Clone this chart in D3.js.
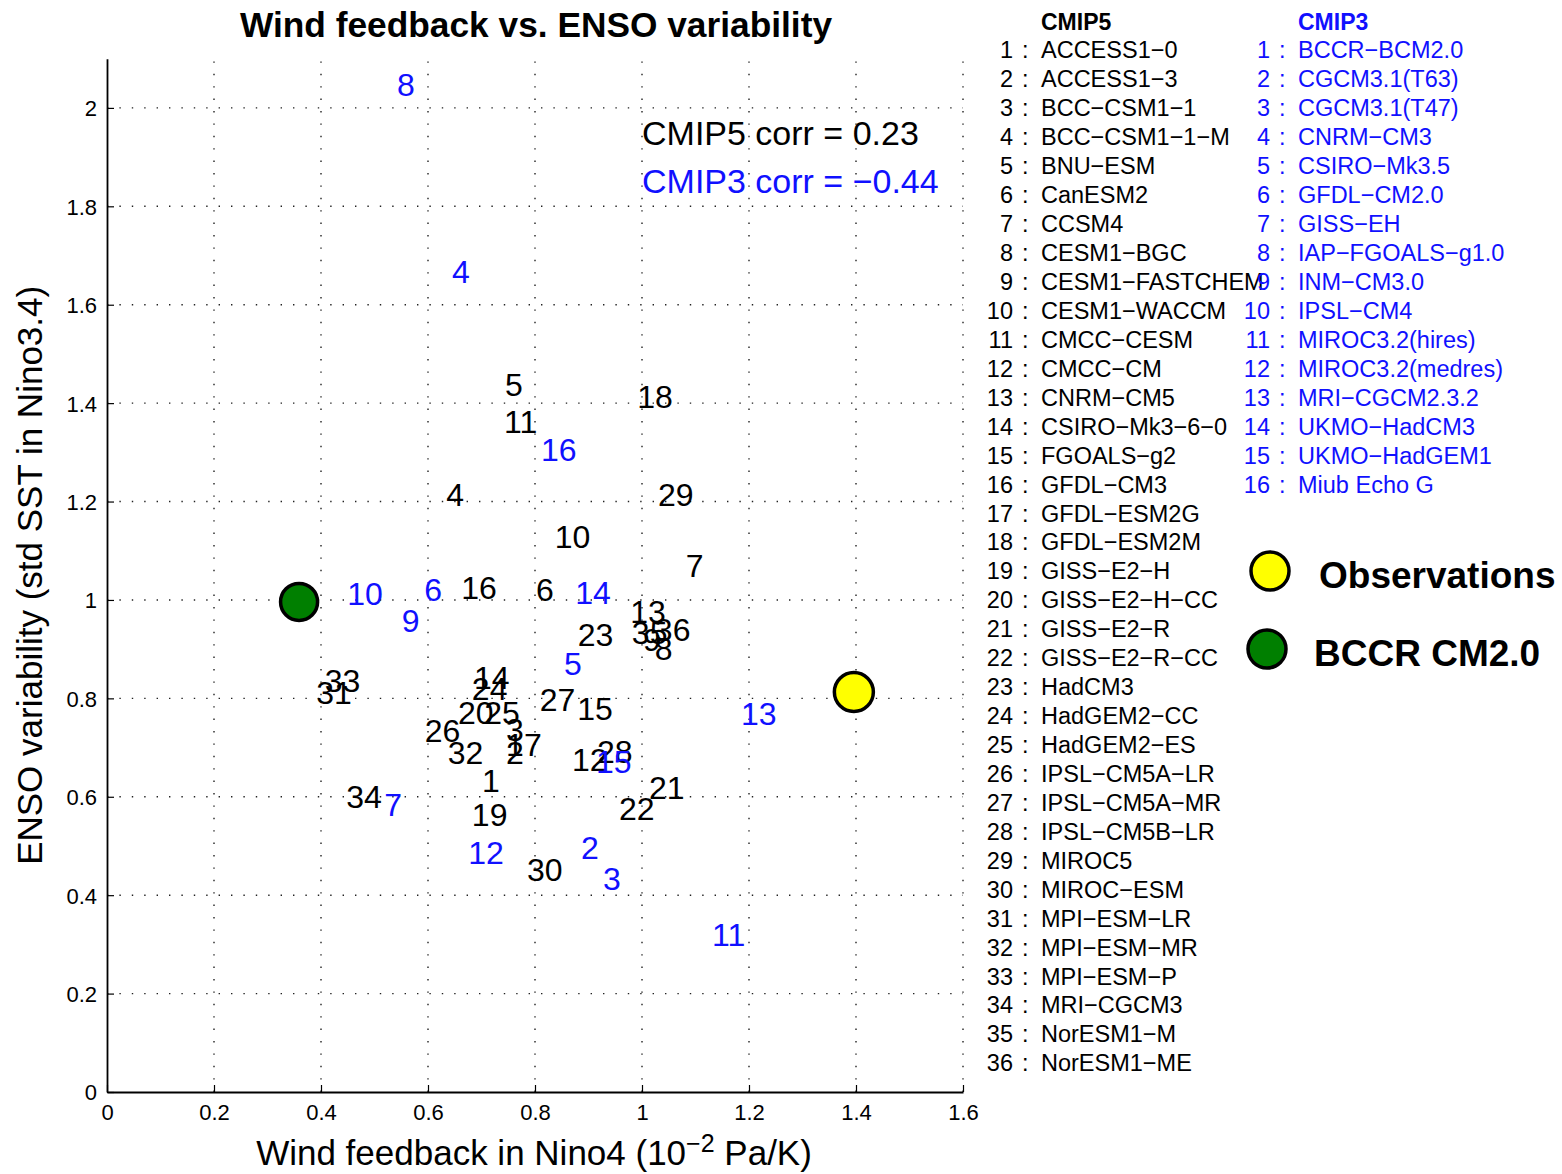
<!DOCTYPE html>
<html>
<head>
<meta charset="utf-8">
<script src="https://cdn.jsdelivr.net/npm/d3@7"></script>
<style>
  body { margin: 0; background: #fff; }
  text { font-family: "Liberation Sans", Arial, Helvetica, sans-serif; }
</style>
</head>
<body>
<svg id="chart" width="1562" height="1174"></svg>
<script>
// ---- data -------------------------------------------------------------
const cmip5Names = [
  "ACCESS1-0", "ACCESS1-3", "BCC-CSM1-1", "BCC-CSM1-1-M", "BNU-ESM", "CanESM2",
  "CCSM4", "CESM1-BGC", "CESM1-FASTCHEM", "CESM1-WACCM", "CMCC-CESM", "CMCC-CM",
  "CNRM-CM5", "CSIRO-Mk3-6-0", "FGOALS-g2", "GFDL-CM3", "GFDL-ESM2G", "GFDL-ESM2M",
  "GISS-E2-H", "GISS-E2-H-CC", "GISS-E2-R", "GISS-E2-R-CC", "HadCM3", "HadGEM2-CC",
  "HadGEM2-ES", "IPSL-CM5A-LR", "IPSL-CM5A-MR", "IPSL-CM5B-LR", "MIROC5", "MIROC-ESM",
  "MPI-ESM-LR", "MPI-ESM-MR", "MPI-ESM-P", "MRI-CGCM3", "NorESM1-M", "NorESM1-ME"
];
// wind feedback in Nino4 (1e-2 Pa/K)
const cmip5Wind = [
  0.701, 0.746, 0.746, 0.634, 0.744, 0.802, 1.082, 1.024, 1.002, 0.837, 0.742, 0.869,
  0.978, 0.686, 0.879, 0.662, 0.746, 0.991, 0.682, 0.656, 1.013, 0.957, 0.880, 0.682,
  0.705, 0.594, 0.809, 0.916, 1.030, 0.785, 0.391, 0.637, 0.407, 0.447, 0.981, 1.024
];
// ENSO variability: std of SST in Nino3.4
const cmip5Enso = [
  0.634, 0.691, 0.736, 1.215, 1.437, 1.022, 1.071, 0.902, 0.919, 1.130, 1.362, 0.675,
  0.976, 0.843, 0.780, 1.026, 0.707, 1.413, 0.563, 0.772, 0.618, 0.577, 0.929, 0.821,
  0.772, 0.734, 0.797, 0.693, 1.215, 0.453, 0.811, 0.691, 0.837, 0.600, 0.933, 0.939
];

const cmip3Names = [
  "BCCR-BCM2.0", "CGCM3.1(T63)", "CGCM3.1(T47)", "CNRM-CM3", "CSIRO-Mk3.5", "GFDL-CM2.0",
  "GISS-EH", "IAP-FGOALS-g1.0", "INM-CM3.0", "IPSL-CM4", "MIROC3.2(hires)",
  "MIROC3.2(medres)", "MRI-CGCM2.3.2", "UKMO-HadCM3", "UKMO-HadGEM1", "Miub Echo G"
];
const cmip3Wind = [
  0.359, 0.886, 0.927, 0.645, 0.854, 0.593, 0.518, 0.542, 0.551, 0.449, 1.131, 0.675,
  1.185, 0.875, 0.914, 0.811
];
const cmip3Enso = [
  0.996, 0.496, 0.433, 1.667, 0.870, 1.022, 0.585, 2.047, 0.959, 1.014, 0.321, 0.486,
  0.770, 1.016, 0.671, 1.305
];

const obsWind = 1.396;
const obsEnso = 0.813;

const xTicks = [0, 0.2, 0.4, 0.6, 0.8, 1.0, 1.2, 1.4, 1.6];
const yTicks = [0, 0.2, 0.4, 0.6, 0.8, 1.0, 1.2, 1.4, 1.6, 1.8, 2.0];
const corrTexts = ["CMIP5 corr = 0.23", "CMIP3 corr = \u22120.44"];
const markerLabels = ["Observations", "BCCR CM2.0"];

// ---- drawing ----------------------------------------------------------
const BLUE = "#1010ff";
const svg = d3.select("#chart");
const minusify = s => s.replace(/-/g, "\u2212");

const x = d3.scaleLinear().domain([0, 1.6]).range([107, 963]);
const y = d3.scaleLinear().domain([0, 2.1]).range([1092, 58.7]);

// dotted grid
const grid = svg.append("g").attr("stroke", "#222").attr("stroke-width", 1.4)
  .attr("stroke-dasharray", "1.4 11");
grid.selectAll(".vg").data(xTicks.slice(1)).join("line")
  .attr("x1", d => x(d)).attr("x2", d => x(d))
  .attr("y1", y(0)).attr("y2", y(2.1));
grid.selectAll(".hg").data(yTicks.slice(1)).join("line")
  .attr("x1", x(0)).attr("x2", x(1.6))
  .attr("y1", d => y(d)).attr("y2", d => y(d));

// axes with inward ticks
const fmt = d => String(+d.toFixed(1));
const xAxis = svg.append("g").attr("transform", `translate(0,${y(0)})`)
  .call(d3.axisBottom(x).tickValues(xTicks).tickFormat(fmt).tickSizeInner(-7).tickSizeOuter(0).tickPadding(10));
const yAxis = svg.append("g").attr("transform", `translate(${x(0)},0)`)
  .call(d3.axisLeft(y).tickValues(yTicks).tickFormat(fmt).tickSizeInner(-7).tickSizeOuter(0).tickPadding(10));
[xAxis, yAxis].forEach(g => {
  g.select(".domain").attr("stroke", "#000").attr("stroke-width", 1.8);
  g.selectAll(".tick line").attr("stroke", "#000").attr("stroke-width", 1.2);
  g.selectAll(".tick text").attr("font-size", 22).attr("fill", "#000")
    .style("font-family", '"Liberation Sans", Arial, sans-serif');
});
xAxis.selectAll(".tick text").attr("dy", "0.8em");
yAxis.selectAll(".tick text").attr("dy", "0.36em");

// title and axis labels
svg.append("text").attr("x", 536).attr("y", 37).attr("text-anchor", "middle")
  .attr("font-size", 35.3).attr("font-weight", "bold").text("Wind feedback vs. ENSO variability");

svg.append("text").attr("transform", `translate(42,${(y(0) + y(2.1)) / 2}) rotate(-90)`)
  .attr("text-anchor", "middle").attr("font-size", 35)
  .text("ENSO variability (std SST in Nino3.4)");

const xl = svg.append("text").attr("x", 534).attr("y", 1165).attr("text-anchor", "middle")
  .attr("font-size", 35);
xl.append("tspan").text("Wind feedback in Nino4 (10");
xl.append("tspan").attr("font-size", 25).attr("dy", -13).text("\u22122");
xl.append("tspan").attr("dy", 13).text(" Pa/K)");

// correlation notes
svg.selectAll(".corr").data(corrTexts).join("text")
  .attr("x", 642).attr("y", (d, i) => 133 + i * 48).attr("dy", "0.36em")
  .attr("font-size", 34).attr("fill", (d, i) => i === 0 ? "#000" : BLUE)
  .text(d => d);

// model index labels
const labelSize = 32;
svg.append("g").selectAll("text").data(cmip5Wind).join("text")
  .attr("x", d => x(d)).attr("y", (d, i) => y(cmip5Enso[i])).attr("dy", "0.36em")
  .attr("font-size", labelSize).attr("fill", "#000")
  .text((d, i) => i + 1);
svg.append("g").selectAll("text").data(cmip3Wind).join("text")
  .attr("x", d => x(d)).attr("y", (d, i) => y(cmip3Enso[i])).attr("dy", "0.36em")
  .attr("font-size", labelSize).attr("fill", BLUE)
  .text((d, i) => i + 1);

// highlighted markers: observations and BCCR (CMIP3 #1)
svg.append("circle").attr("cx", x(obsWind)).attr("cy", y(obsEnso)).attr("r", 19.5)
  .attr("fill", "#ffff00").attr("stroke", "#000").attr("stroke-width", 3.5);
svg.append("circle").attr("cx", x(cmip3Wind[0])).attr("cy", y(cmip3Enso[0])).attr("r", 18.5)
  .attr("fill", "#007f00").attr("stroke", "#000").attr("stroke-width", 3.5);

// model name lists
const rowY = i => 50 + i * 28.94;
const lg = svg.append("g").attr("font-size", 23.5);
lg.append("text").attr("x", 1041).attr("y", 22).attr("dy", "0.36em")
  .attr("font-weight", "bold").attr("font-size", 23).text("CMIP5");
lg.append("text").attr("x", 1298).attr("y", 22).attr("dy", "0.36em")
  .attr("font-weight", "bold").attr("font-size", 23).attr("fill", BLUE).text("CMIP3");

function nameColumn(names, numRight, colonX, nameX, color) {
  const g = lg.append("g").attr("fill", color);
  g.selectAll(".n").data(names).join("text")
    .attr("x", numRight).attr("y", (d, i) => rowY(i)).attr("dy", "0.36em")
    .attr("text-anchor", "end").text((d, i) => i + 1);
  g.selectAll(".c").data(names).join("text")
    .attr("x", colonX).attr("y", (d, i) => rowY(i)).attr("dy", "0.36em")
    .text(":");
  g.selectAll(".m").data(names).join("text")
    .attr("x", nameX).attr("y", (d, i) => rowY(i)).attr("dy", "0.36em")
    .text(d => minusify(d));
}
nameColumn(cmip5Names, 1013, 1022, 1041, "#000");
nameColumn(cmip3Names, 1270, 1279, 1298, BLUE);

// marker key
const keyColors = ["#ffff00", "#007f00"];
const keyY = [571, 649];
const keyX = [1270, 1267];
svg.selectAll(".kc").data(markerLabels).join("circle")
  .attr("cx", (d, i) => keyX[i]).attr("cy", (d, i) => keyY[i]).attr("r", 19)
  .attr("fill", (d, i) => keyColors[i]).attr("stroke", "#000").attr("stroke-width", 3.5);
svg.selectAll(".kt").data(markerLabels).join("text")
  .attr("x", (d, i) => i === 0 ? 1319 : 1314).attr("y", (d, i) => keyY[i] + 4).attr("dy", "0.36em")
  .attr("font-size", 37).attr("font-weight", "bold").text(d => d);
</script>
</body>
</html>
